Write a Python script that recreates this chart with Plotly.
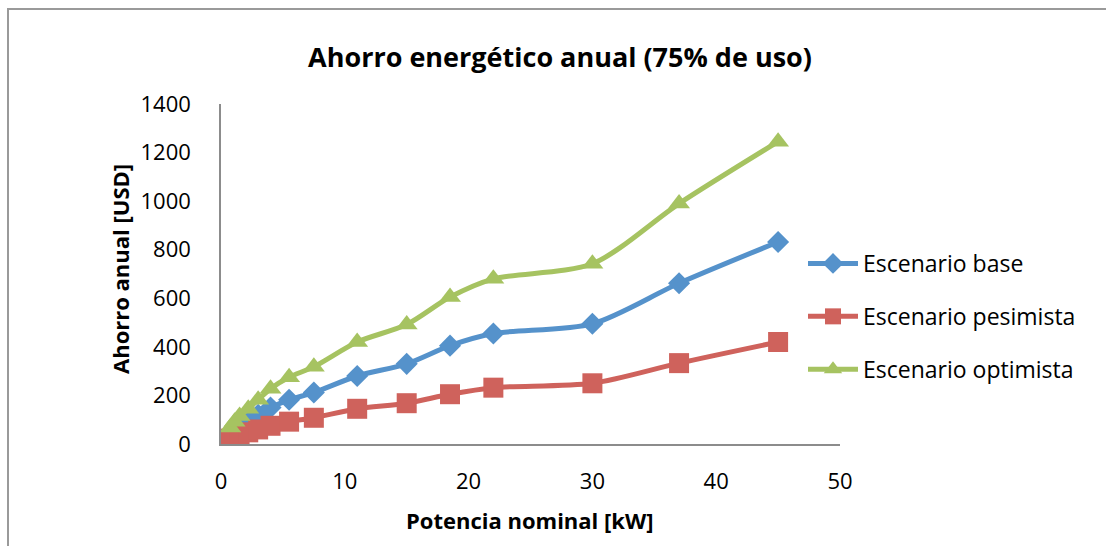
import plotly.graph_objects as go

# Potencia nominal de los motores [kW]
potencia_kw = [0.75, 1.1, 1.5, 2.2, 3, 4, 5.5, 7.5, 11, 15, 18.5, 22, 30, 37, 45]

# Ahorro anual [USD] por escenario
ahorro_base = [45, 60, 75, 95, 120, 150, 182, 212, 280, 330, 405, 455, 495, 662, 832]
ahorro_pesimista = [22, 30, 38, 48, 60, 75, 92, 108, 145, 168, 205, 232, 250, 333, 420]
ahorro_optimista = [68, 92, 115, 145, 182, 228, 275, 318, 420, 492, 605, 680, 742, 990, 1245]

series = [
    ("Escenario base", ahorro_base, "#5592CB", "diamond", 17),
    ("Escenario pesimista", ahorro_pesimista, "#CF625C", "square", 20),
    ("Escenario optimista", ahorro_optimista, "#A6C361", "triangle-up", 19),
]

FONT = "Open Sans"

fig = go.Figure()
for i, (name, values, color, symbol, size) in enumerate(series):
    fig.add_trace(go.Scatter(
        x=potencia_kw,
        y=values,
        name=name,
        legendgroup=str(i),
        mode="lines+markers",
        line=dict(color=color, width=5, shape="spline", smoothing=0.8),
        marker=dict(symbol=symbol, size=size, color=color, line=dict(width=0)),
    ))

# Plot area in pixels: x 221..840, y 104..444
L, R, T, B = 221, 266, 104, 102
W, H = 1106, 546
pw = W - L - R
ph = H - T - B


def px_x(p):
    return (p - L) / pw


def px_y(p):
    return (H - B - p) / ph


fig.update_layout(
    width=W,
    height=H,
    margin=dict(l=L, r=R, t=T, b=B, pad=0),
    paper_bgcolor="white",
    plot_bgcolor="white",
    font=dict(family=FONT, color="#000000", size=21),
    showlegend=True,
    title=dict(
        text="<b>Ahorro energético anual (75% de uso)</b>",
        font=dict(family=FONT, size=27, color="#000000"),
        x=px_x(560), xref="paper", xanchor="center",
        y=1 - 58 / H, yref="container", yanchor="middle",
    ),
    xaxis=dict(
        range=[0, 50], dtick=10, tick0=0,
        showline=True, linecolor="#8C8C8C", linewidth=1.5,
        showgrid=False, zeroline=False, ticks="",
        ticklabelstandoff=17,
        tickfont=dict(family=FONT, size=22, color="#000000"),
        fixedrange=True,
    ),
    yaxis=dict(
        range=[0, 1400], dtick=200, tick0=0,
        showline=True, linecolor="#8C8C8C", linewidth=1.5,
        showgrid=False, zeroline=False, ticks="",
        ticklabelstandoff=24,
        tickfont=dict(family=FONT, size=22, color="#000000"),
        fixedrange=True,
    ),
    legend=dict(
        x=px_x(803), xanchor="left",
        y=px_y(242), yanchor="top",
        font=dict(family=FONT, size=23, color="#000000"),
        traceorder="grouped",
        tracegroupgap=20,
        itemwidth=50,
        bgcolor="rgba(0,0,0,0)",
    ),
    annotations=[
        dict(
            text="<b>Ahorro anual [USD]</b>",
            xref="paper", yref="paper",
            x=px_x(120), y=px_y(269),
            textangle=-90, showarrow=False,
            font=dict(family=FONT, size=22, color="#000000"),
            xanchor="center", yanchor="middle",
        ),
        dict(
            text="<b>Potencia nominal [kW]</b>",
            xref="paper", yref="paper",
            x=px_x(530), y=px_y(520),
            showarrow=False,
            font=dict(family=FONT, size=22, color="#000000"),
            xanchor="center", yanchor="middle",
        ),
    ],
    shapes=[
        # chart-area border
        dict(
            type="rect", xref="paper", yref="paper",
            x0=px_x(8), x1=px_x(1112), y0=px_y(552), y1=px_y(9),
            line=dict(color="#9A9A9A", width=2), fillcolor="rgba(0,0,0,0)",
            layer="below",
        ),
    ],
)

fig.write_html("out.html", config={"displayModeBar": False})
